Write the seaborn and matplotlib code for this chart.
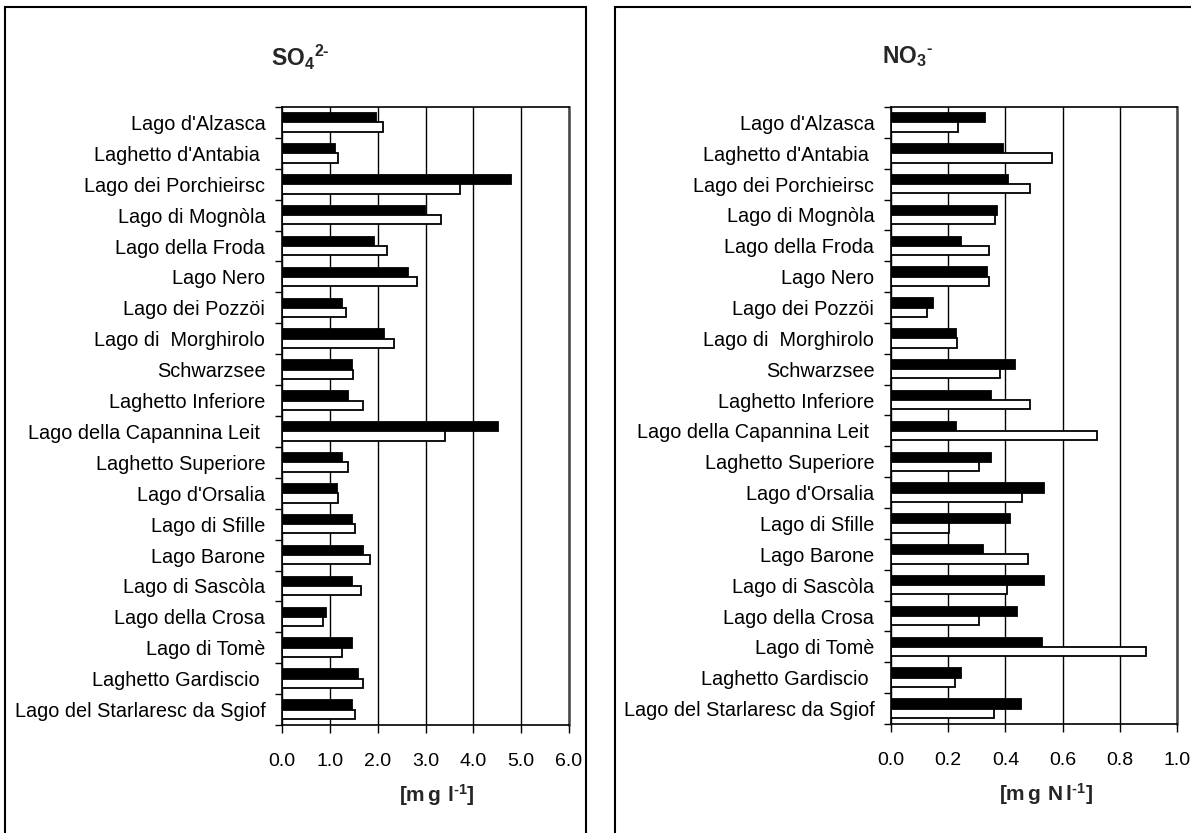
import numpy as np
import pandas as pd
import matplotlib
matplotlib.use("Agg")
import matplotlib.pyplot as plt
from matplotlib.patches import Rectangle
from matplotlib.ticker import FixedLocator, FormatStrFormatter
import seaborn as sns

# Lakes, top to bottom
lakes = [
    "Lago d'Alzasca", "Laghetto d'Antabia ", "Lago dei Porchieirsc", "Lago di Mognòla",
    "Lago della Froda", "Lago Nero", "Lago dei Pozzöi", "Lago di  Morghirolo",
    "Schwarzsee", "Laghetto Inferiore", "Lago della Capannina Leit ", "Laghetto Superiore",
    "Lago d'Orsalia", "Lago di Sfille", "Lago Barone", "Lago di Sascòla",
    "Lago della Crosa", "Lago di Tomè", "Laghetto Gardiscio ", "Lago del Starlaresc da Sgiof",
]
series_names = ["A", "B"]

# Sulphate [mg l-1]
so4_a = [1.97, 1.11, 4.78, 2.99, 1.93, 2.63, 1.26, 2.13, 1.46, 1.38,
         4.51, 1.26, 1.15, 1.46, 1.69, 1.46, 0.91, 1.46, 1.58, 1.46]
so4_b = [2.12, 1.18, 3.72, 3.33, 2.19, 2.82, 1.34, 2.35, 1.49, 1.69,
         3.41, 1.37, 1.18, 1.53, 1.84, 1.65, 0.86, 1.25, 1.69, 1.53]

# Nitrate [mg N l-1]
no3_a = [0.33, 0.39, 0.41, 0.37, 0.245, 0.337, 0.147, 0.226, 0.435, 0.349,
         0.226, 0.349, 0.534, 0.415, 0.323, 0.534, 0.441, 0.527, 0.244, 0.453]
no3_b = [0.236, 0.564, 0.486, 0.362, 0.341, 0.341, 0.126, 0.23, 0.381, 0.486,
         0.721, 0.308, 0.459, 0.203, 0.48, 0.406, 0.308, 0.892, 0.223, 0.359]

so4_ticks = [0.0, 1.0, 2.0, 3.0, 4.0, 5.0, 6.0]
no3_ticks = [0.0, 0.2, 0.4, 0.6, 0.8, 1.0]

sns.set_theme(style="white")
plt.rcParams["font.family"] = ["Liberation Sans", "DejaVu Sans"]
plt.rcParams["mathtext.fontset"] = "custom"
plt.rcParams["mathtext.rm"] = "Liberation Sans"
plt.rcParams["mathtext.bf"] = "Liberation Sans:bold"
plt.rcParams["mathtext.default"] = "bf"

W, H = 1191, 833
fig = plt.figure(figsize=(W / 100, H / 100), dpi=100)
fig.patch.set_facecolor("white")


def long_frame(a, b):
    return pd.DataFrame({
        "lake": lakes * 2,
        "value": list(a) + list(b),
        "series": [series_names[0]] * len(lakes) + [series_names[1]] * len(lakes),
    })


def panel(rect, a, b, ticks):
    ax = fig.add_axes(rect)
    df = long_frame(a, b)
    sns.barplot(data=df, y="lake", x="value", hue="series", orient="h",
                hue_order=series_names,
                palette={series_names[0]: "black", series_names[1]: "white"},
                edgecolor="black", linewidth=1.3, width=0.6, dodge=True,
                legend=False, ax=ax, errorbar=None, saturation=1)
    ax.set_xlim(ticks[0], ticks[-1])
    ax.set_ylim(len(lakes) - 0.5, -0.5)
    ax.set_xticks(ticks)
    ax.xaxis.set_major_formatter(FormatStrFormatter("%.1f"))
    ax.set_xlabel("")
    ax.set_ylabel("")
    ax.grid(axis="x", color="black", linewidth=1.0)
    ax.grid(axis="y", visible=False)
    ax.set_axisbelow(True)
    ax.yaxis.set_minor_locator(FixedLocator(np.arange(-0.5, len(lakes), 1.0)))
    ax.tick_params(axis="y", which="major", length=0, pad=12, labelsize=14.3,
                   labelcolor="black")
    ax.tick_params(axis="y", which="minor", length=5, width=1.0, color="black",
                   direction="out", left=True)
    ax.tick_params(axis="x", which="major", length=6, width=1.0, color="black",
                   direction="out", bottom=True, pad=14, labelsize=14,
                   labelcolor="black")
    for s in ax.spines.values():
        s.set_visible(True)
        s.set_color("black")
        s.set_linewidth(1.2)
    ax.spines["right"].set_color("#444444")
    ax.spines["right"].set_linewidth(1.8)
    return ax


panel([282 / W, 1 - 725 / H, 287 / W, 618 / H], so4_a, so4_b, so4_ticks)
panel([891 / W, 1 - 724 / H, 286 / W, 617 / H], no3_a, no3_b, no3_ticks)

# Frames round the two panels
fig.add_artist(Rectangle((5 / W, -0.05), 581 / W, 1.05 - 7 / H, transform=fig.transFigure,
                         fill=False, edgecolor="black", linewidth=1.5))
fig.add_artist(Rectangle((615 / W, -0.05), 600 / W, 1.05 - 7 / H, transform=fig.transFigure,
                         fill=False, edgecolor="black", linewidth=1.5))

fig.text(300 / W, 1 - 57 / H, "$SO_4{}^{2\u2010}$", ha="center", va="center", fontsize=16.5)
fig.text(908 / W, 1 - 57 / H, "$NO_3{}^{\u2010}$", ha="center", va="center", fontsize=16.5)
fig.text(437 / W, 1 - 795 / H, "$[m\\,g\\ l^{\u20101}]$", ha="center", va="center", fontsize=15)
fig.text(1046 / W, 1 - 794 / H, "$[m\\,g\\ N\\,l^{\u20101}]$", ha="center", va="center", fontsize=15)

fig.savefig("out.png", dpi=100, facecolor="white")
